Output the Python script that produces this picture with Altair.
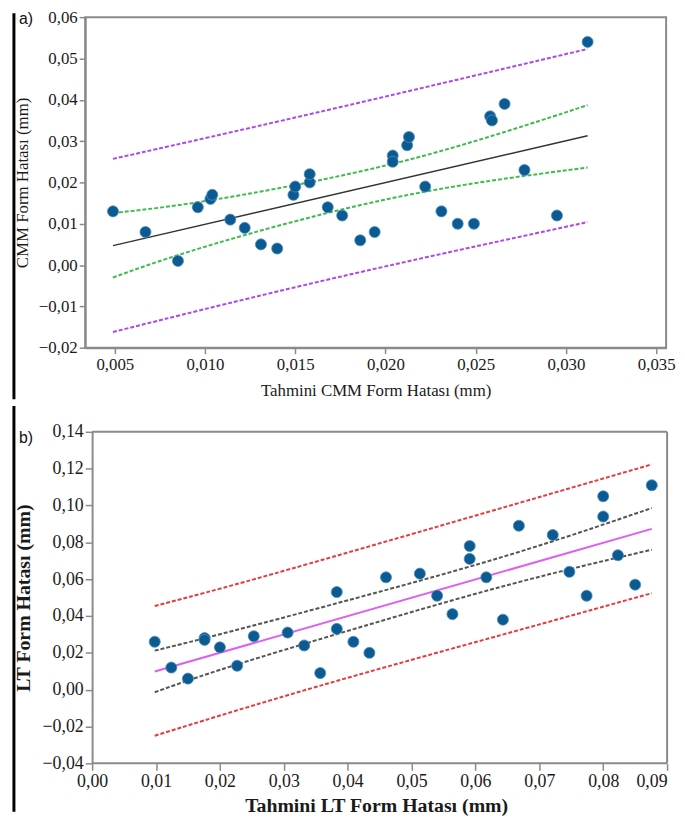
import altair as alt
import pandas as pd

# ---------------- Panel a data ----------------
a_pred = [0.0049, 0.0067, 0.0085, 0.0096, 0.0103, 0.0104, 0.0114, 0.0122, 0.0131, 0.0140,
          0.0149, 0.0150, 0.0158, 0.0158, 0.0168, 0.0176, 0.0186, 0.0194, 0.0204, 0.0204,
          0.0212, 0.0213, 0.0222, 0.0231, 0.0240, 0.0249, 0.0258, 0.0259, 0.0266, 0.0277,
          0.0295, 0.0312]
a_meas = [0.013, 0.008, 0.001, 0.014, 0.016, 0.017, 0.011, 0.009, 0.005, 0.004,
          0.017, 0.019, 0.020, 0.022, 0.014, 0.012, 0.006, 0.008, 0.0265, 0.025,
          0.029, 0.031, 0.019, 0.013, 0.010, 0.010, 0.036, 0.035, 0.039, 0.023,
          0.012, 0.054]
a_fit_x = [0.0049, 0.0312]
a_fit_y = [0.0047, 0.0313]
a_ciu_x = [0.0049, 0.0086, 0.0157, 0.0228, 0.0312]
a_ciu_y = [0.0126, 0.0143, 0.0197, 0.0267, 0.0387]
a_cil_x = [0.0049, 0.0086, 0.0157, 0.0228, 0.0312]
a_cil_y = [-0.0030, 0.0028, 0.0117, 0.0188, 0.0236]
a_piu_x = [0.0049, 0.0150, 0.0312]
a_piu_y = [0.0257, 0.0356, 0.0523]
a_pil_x = [0.0049, 0.0168, 0.0312]
a_pil_y = [-0.0162, -0.0032, 0.0104]
a_xticks = [0.005, 0.010, 0.015, 0.020, 0.025, 0.030, 0.035]
a_yticks = [-0.02, -0.01, 0.0, 0.01, 0.02, 0.03, 0.04, 0.05, 0.06]

# ---------------- Panel b data ----------------
b_pred = [0.0098, 0.0124, 0.0150, 0.0176, 0.0176, 0.0200, 0.0227, 0.0253, 0.0306, 0.0332,
          0.0357, 0.0383, 0.0383, 0.0409, 0.0434, 0.0460, 0.0513, 0.0540, 0.0564, 0.0591,
          0.0591, 0.0617, 0.0643, 0.0668, 0.0721, 0.0747, 0.0774, 0.0800, 0.0800, 0.0823,
          0.0850, 0.0876]
b_meas = [0.026, 0.012, 0.006, 0.028, 0.027, 0.023, 0.013, 0.029, 0.031, 0.024,
          0.009, 0.033, 0.053, 0.026, 0.020, 0.061, 0.063, 0.051, 0.041, 0.078,
          0.071, 0.061, 0.038, 0.089, 0.084, 0.064, 0.051, 0.105, 0.094, 0.073,
          0.057, 0.111]
b_fit_x = [0.0098, 0.0876]
b_fit_y = [0.0099, 0.0873]
b_ciu_x = [0.0098, 0.0198, 0.0431, 0.0664, 0.0876]
b_ciu_y = [0.0212, 0.0297, 0.0513, 0.0735, 0.0986]
b_cil_x = [0.0098, 0.0198, 0.0431, 0.0664, 0.0876]
b_cil_y = [-0.0014, 0.0110, 0.0352, 0.0588, 0.0760]
b_piu_x = [0.0098, 0.0198, 0.0353, 0.0876]
b_piu_y = [0.0454, 0.0545, 0.0696, 0.1223]
b_pil_x = [0.0098, 0.0338, 0.0664, 0.0876]
b_pil_y = [-0.0250, 0.0008, 0.0319, 0.0524]
b_xticks = [0.0, 0.01, 0.02, 0.03, 0.04, 0.05, 0.06, 0.07, 0.08, 0.09]
b_yticks = [-0.04, -0.02, 0.0, 0.02, 0.04, 0.06, 0.08, 0.10, 0.12, 0.14]

SERIF = "Liberation Serif"
SANS = "Liberation Sans"
AXC = "#8a8a8a"
TXT = "#1a1a1a"
PT = "#0b5a91"


def fmt(d):
    return "replace(format(datum.value, '.%df'), '.', ',')" % d


def axis(values, d, title, lsize, tsize, tweight, tick, lpad, tpad, **kw):
    return alt.Axis(values=values, labelExpr=fmt(d), title=title,
                    titleFont=SERIF, titleFontSize=tsize, titleFontWeight=tweight,
                    titleColor=TXT, labelFont=SERIF, labelFontSize=lsize,
                    labelColor=TXT, tickSize=tick, tickColor=AXC, tickWidth=1.5,
                    domainColor=AXC, domainWidth=2, labelPadding=lpad,
                    titlePadding=tpad, grid=False, **kw)


def vrule(x, y0, y1, color, width):
    return alt.Chart(pd.DataFrame({"k": [0]})).mark_rule(color=color, strokeWidth=width).encode(
        x=alt.value(x), y=alt.value(y0), y2=alt.value(y1))


def hrule(x0, x1, y, color, width):
    return alt.Chart(pd.DataFrame({"k": [0]})).mark_rule(color=color, strokeWidth=width).encode(
        x=alt.value(x0), x2=alt.value(x1), y=alt.value(y))


def panel(xs, ys, xax, yax, pred, meas, lines, w, h, label, lab_xy, extra):
    def enc(ch):
        return ch.encode(x=alt.X("x:Q", scale=xs, axis=xax),
                         y=alt.Y("y:Q", scale=ys, axis=yax))
    layers = list(extra)
    for lx, ly, color, dash, width in lines:
        kw = dict(color=color, strokeWidth=width, interpolate="basis")
        if dash:
            kw["strokeDash"] = dash
        layers.append(enc(alt.Chart(pd.DataFrame({"x": lx, "y": ly})).mark_line(**kw)))
    layers.append(enc(alt.Chart(pd.DataFrame({"x": pred, "y": meas})).mark_circle(
        size=125, color=PT, opacity=1, stroke="#4d8fc0", strokeWidth=0.8)))
    one = pd.DataFrame({"t": [label]})
    layers.append(alt.Chart(one).mark_text(font=SANS, fontSize=16, align="left",
                                           baseline="middle", color="#111").encode(
        x=alt.value(lab_xy[0]), y=alt.value(lab_xy[1]), text="t:N"))
    return alt.layer(*layers).properties(width=w, height=h)


# ---------- panel a ----------
xs_a = alt.Scale(domain=[0.00336, 0.03555], nice=False, zero=False)
ys_a = alt.Scale(domain=[-0.02, 0.06], nice=False, zero=False)
xax_a = axis(a_xticks, 3, "Tahmini CMM Form Hatası (mm)", 17, 17, "normal", 6, 3, 10)
yax_a = axis(a_yticks, 2, "CMM Form Hatası (mm)", 17, 17, "normal", 6, 2, 7)
lines_a = [
    (a_piu_x, a_piu_y, "#a94ae6", [4, 2], 2),
    (a_pil_x, a_pil_y, "#a94ae6", [4, 2], 2),
    (a_ciu_x, a_ciu_y, "#3dbb4c", [4, 2], 2),
    (a_cil_x, a_cil_y, "#3dbb4c", [4, 2], 2),
    (a_fit_x, a_fit_y, "#333333", None, 1.5),
]
extra_a = [vrule(-72, -4, 386, "black", 3)]
pa = panel(xs_a, ys_a, xax_a, yax_a, a_pred, a_meas, lines_a, 587, 334,
           "a)", (-67, 2), extra_a)

# ---------- panel b (plot area starts 7px left of its frame) ----------
B_W = 588
B_H = 335
xs_b = alt.Scale(domain=[-0.0010843, 0.09], nice=False, zero=False)
ys_b = alt.Scale(domain=[-0.04, 0.14], nice=False, zero=False)
xax_b = axis(b_xticks, 2, "Tahmini LT Form Hatası (mm)", 18, 20, "bold", 7, 2, 6,
             domain=False,
             labelAlign=alt.expr("datum.value > 0.085 ? 'right' : 'center'"))
yax_b = axis(b_yticks, 2, "LT Form Hatası (mm)", 18, 20, "bold", 7, 2, 9, offset=-7)
lines_b = [
    (b_piu_x, b_piu_y, "#e53b3b", [4, 2], 2),
    (b_pil_x, b_pil_y, "#e53b3b", [4, 2], 2),
    (b_ciu_x, b_ciu_y, "#555555", [4, 2], 2),
    (b_cil_x, b_cil_y, "#555555", [4, 2], 2),
    (b_fit_x, b_fit_y, "#dd5ff0", None, 2),
]
extra_b = [vrule(-72, -26, 384, "black", 3),
           hrule(7, B_W, 0, AXC, 2), hrule(7, B_W, B_H, AXC, 2),
           vrule(B_W, 0, B_H, AXC, 2)]
pb = panel(xs_b, ys_b, xax_b, yax_b, b_pred, b_meas, lines_b, B_W, B_H,
           "b)", (-67, 6), extra_b).properties(
    view=alt.ViewBackground(stroke="transparent", strokeWidth=0))

chart = alt.concat(pa, pb, columns=1, spacing=2, align="none").properties(
    padding={"left": 3, "top": -5, "right": 0, "bottom": 0}
).configure_view(stroke=AXC, strokeWidth=2)

chart.save("out.html", embed_options={"renderer": "svg", "actions": False})
